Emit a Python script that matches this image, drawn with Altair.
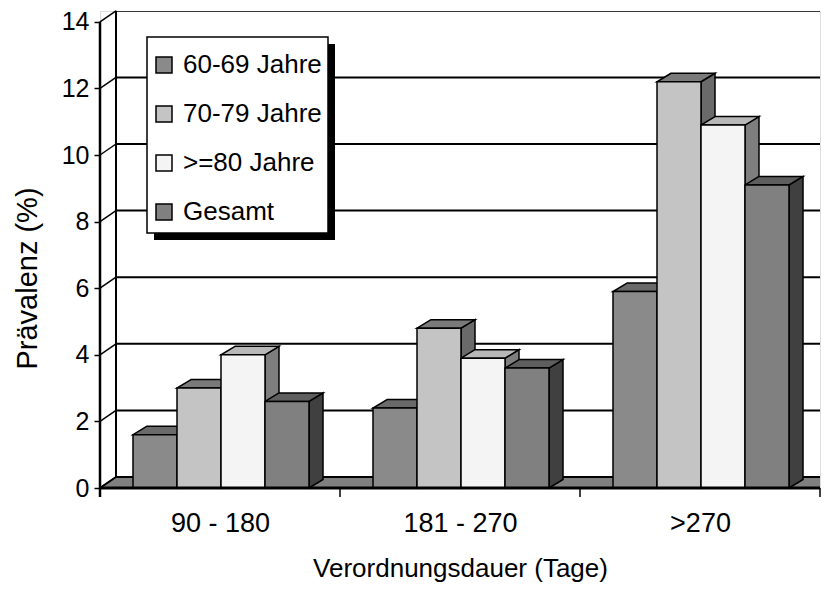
import altair as alt
import pandas as pd

# ---------------- data ----------------
categories = ["90 - 180", "181 - 270", ">270"]
series = ["60-69 Jahre", "70-79 Jahre", ">=80 Jahre", "Gesamt"]
values_60_69 = [1.6, 2.4, 5.9]
values_70_79 = [3.0, 4.8, 12.2]
values_80plus = [4.0, 3.9, 10.9]
values_gesamt = [2.6, 3.6, 9.1]
y_ticks = [0, 2, 4, 6, 8, 10, 12, 14]

front_colors = ["#8a8a8a", "#c4c4c4", "#f4f4f4", "#808080"]
top_colors = ["#6a6a6a", "#7a7a7a", "#b8b8b8", "#5e5e5e"]
side_colors = ["#5a5a5a", "#6a6a6a", "#7e7e7e", "#404040"]

# ---------------- geometry (style) ----------------
W, H = 720, 477
PX_CAT = W / 3.0
PX_UNIT = 33.3
YTOP = H / PX_UNIT
WALL_DX = 16 / PX_CAT
WALL_DY = 11 / PX_UNIT
BAR_DX = 14 / PX_CAT
BAR_DY = 8.5 / PX_UNIT
BAR_W = 44 / PX_CAT
BAR_START = 33 / PX_CAT
TICK = 9 / PX_UNIT
FONT = "Liberation Sans"
FS = 26

all_values = [values_60_69, values_70_79, values_80plus, values_gesamt]

fronts, sides, tops = [], [], []
for g, cat in enumerate(categories):
    for s, name in enumerate(series):
        v = all_values[s][g]
        xl = g + BAR_START + s * BAR_W
        xr = xl + BAR_W
        bid = f"{g}-{s}"
        fronts.append(dict(xl=xl, xr=xr, y0=0.0, v=v, series=name, cat=cat))
        sides.append(dict(id=bid, x=xr, y=0.0, y2=v, col=side_colors[s]))
        sides.append(dict(id=bid, x=xr + BAR_DX, y=BAR_DY, y2=v + BAR_DY, col=side_colors[s]))
        tops.append(dict(id=bid, y=v, x=xl, x2=xr, col=top_colors[s]))
        tops.append(dict(id=bid, y=v + BAR_DY, x=xl + BAR_DX, x2=xr + BAR_DX, col=top_colors[s]))

df_front = pd.DataFrame(fronts)
df_side = pd.DataFrame(sides)
df_top = pd.DataFrame(tops)

grid_df = pd.DataFrame({
    "v": y_ticks,
    "yb": [t + WALL_DY for t in y_ticks],
    "x0": [0.0] * len(y_ticks),
    "xb": [WALL_DX] * len(y_ticks),
    "xe": [3.0] * len(y_ticks),
})
floor_df = pd.DataFrame({
    "y": [0.0, WALL_DY],
    "x": [0.0, WALL_DX],
    "x2": [3.0, 3.0 + WALL_DX],
})
xtick_df = pd.DataFrame({"x": [0, 1, 2, 3], "y": [0.0] * 4, "y2": [-TICK] * 4})
one = pd.DataFrame({"a": [0]})

XS = alt.Scale(domain=[0, 3], nice=False, zero=False)
YS = alt.Scale(domain=[0, YTOP], nice=False, zero=False)

label_expr = "['90 - 180','181 - 270','>270'][floor(datum.value)]"
X_AXIS = alt.Axis(values=[0.5, 1.5, 2.5], labelExpr=label_expr, ticks=False, tickSize=0,
                  domain=False, grid=False, labelFontSize=27, labelColor="black",
                  labelFont=FONT, labelPadding=35, labelBaseline="middle",
                  title="Verordnungsdauer (Tage)", titleFont=FONT, titleFontSize=FS,
                  titleFontWeight="normal", titleColor="black", titleY=80,
                  titleBaseline="middle")
Y_AXIS = alt.Axis(values=y_ticks, tickSize=6, tickWidth=1.5, tickColor="black",
                  domain=False, grid=False, labelFontSize=25, labelColor="black",
                  labelFont=FONT, labelPadding=5, title="Prävalenz (%)",
                  titleFont=FONT, titleFontSize=29, titleFontWeight="normal",
                  titleColor="black", titleX=-73, titleY=267, titleBaseline="middle",
                  titleAngle=270)


def X(field, **kw):
    return alt.X(field, type="quantitative", scale=XS, axis=X_AXIS, **kw)


def Y(field, **kw):
    return alt.Y(field, type="quantitative", scale=YS, axis=Y_AXIS, **kw)


# back wall gridlines
back_grid = alt.Chart(grid_df).mark_rule(color="black", strokeWidth=2, clip=True).encode(
    x=X("xb"), x2="xe", y=Y("yb"))
# side wall diagonals
diag = alt.Chart(grid_df).mark_rule(color="black", strokeWidth=1.5).encode(
    x=X("x0"), x2="xb", y=Y("v"), y2="yb")
# back wall left edge
wall_edge = alt.Chart(one).mark_rule(color="black", strokeWidth=2).encode(
    x=X("xb:Q"), y=Y("y0:Q"), y2="y1:Q").transform_calculate(
    xb=str(WALL_DX), y0=str(WALL_DY), y1=str(14 + WALL_DY))
# floor
floor = alt.Chart(floor_df).mark_area(orient="horizontal", fill="#808080", stroke="black",
                                      strokeWidth=2, clip=True).encode(
    y=Y("y"), x=X("x"), x2="x2")

side_layer = alt.Chart(df_side).mark_area(orient="vertical", stroke="black",
                                          strokeWidth=1.5, strokeJoin="miter").encode(
    x=X("x"), y=Y("y"), y2="y2", detail="id:N", fill=alt.Fill("col:N", scale=None))
top_layer = alt.Chart(df_top).mark_area(orient="horizontal", stroke="black",
                                        strokeWidth=1.5, strokeJoin="miter").encode(
    y=Y("y"), x=X("x"), x2="x2", detail="id:N", fill=alt.Fill("col:N", scale=None))
front_layer = alt.Chart(df_front).mark_rect(stroke="black", strokeWidth=1.5).encode(
    x=X("xl"), x2="xr", y=Y("y0"), y2="v",
    fill=alt.Fill("series:N", scale=alt.Scale(domain=series, range=front_colors),
                  legend=alt.Legend(orient="none", legendX=51, legendY=41, title=None,
                                    symbolType="square", symbolSize=256,
                                    symbolStrokeColor="black", symbolStrokeWidth=1.5,
                                    labelFontSize=FS, labelFont=FONT, labelColor="black",
                                    labelOffset=6, rowPadding=23, padding=0, zindex=2,
                                    labelLimit=300)))

# front axis lines
x_line = alt.Chart(one).mark_rule(color="black", strokeWidth=3).encode(
    x=X("x0:Q"), x2="x1:Q", y=Y("y0:Q")).transform_calculate(x0="0", x1="3", y0="0")
y_line = alt.Chart(one).mark_rule(color="black", strokeWidth=2.5).encode(
    x=X("x0:Q"), y=Y("y0:Q"), y2="y1:Q").transform_calculate(
    x0="0", y0=str(-TICK), y1="14")
x_ticks = alt.Chart(xtick_df).mark_rule(color="black", strokeWidth=1.5).encode(
    x=X("x"), y=Y("y"), y2="y2")

# legend frame with shadow
shadow = alt.Chart(one).mark_rect(color="black").encode(
    x=alt.value(54), x2=alt.value(235), y=alt.value(33), y2=alt.value(229))
frame = alt.Chart(one).mark_rect(fill="white", stroke="black", strokeWidth=1.5).encode(
    x=alt.value(47), x2=alt.value(228), y=alt.value(26), y2=alt.value(222))

chart = alt.layer(
    back_grid, diag, wall_edge, floor, side_layer, top_layer, front_layer,
    x_line, y_line, x_ticks, shadow, frame
).resolve_scale(fill="independent").properties(
    width=W, height=H,
    padding={"left": 92, "top": 3, "right": 1, "bottom": 94},
    autosize=alt.AutoSizeParams(type="none"),
).configure_view(stroke=None).configure(background="white")

chart.save("out.html", embed_options={"renderer": "svg", "actions": False})
